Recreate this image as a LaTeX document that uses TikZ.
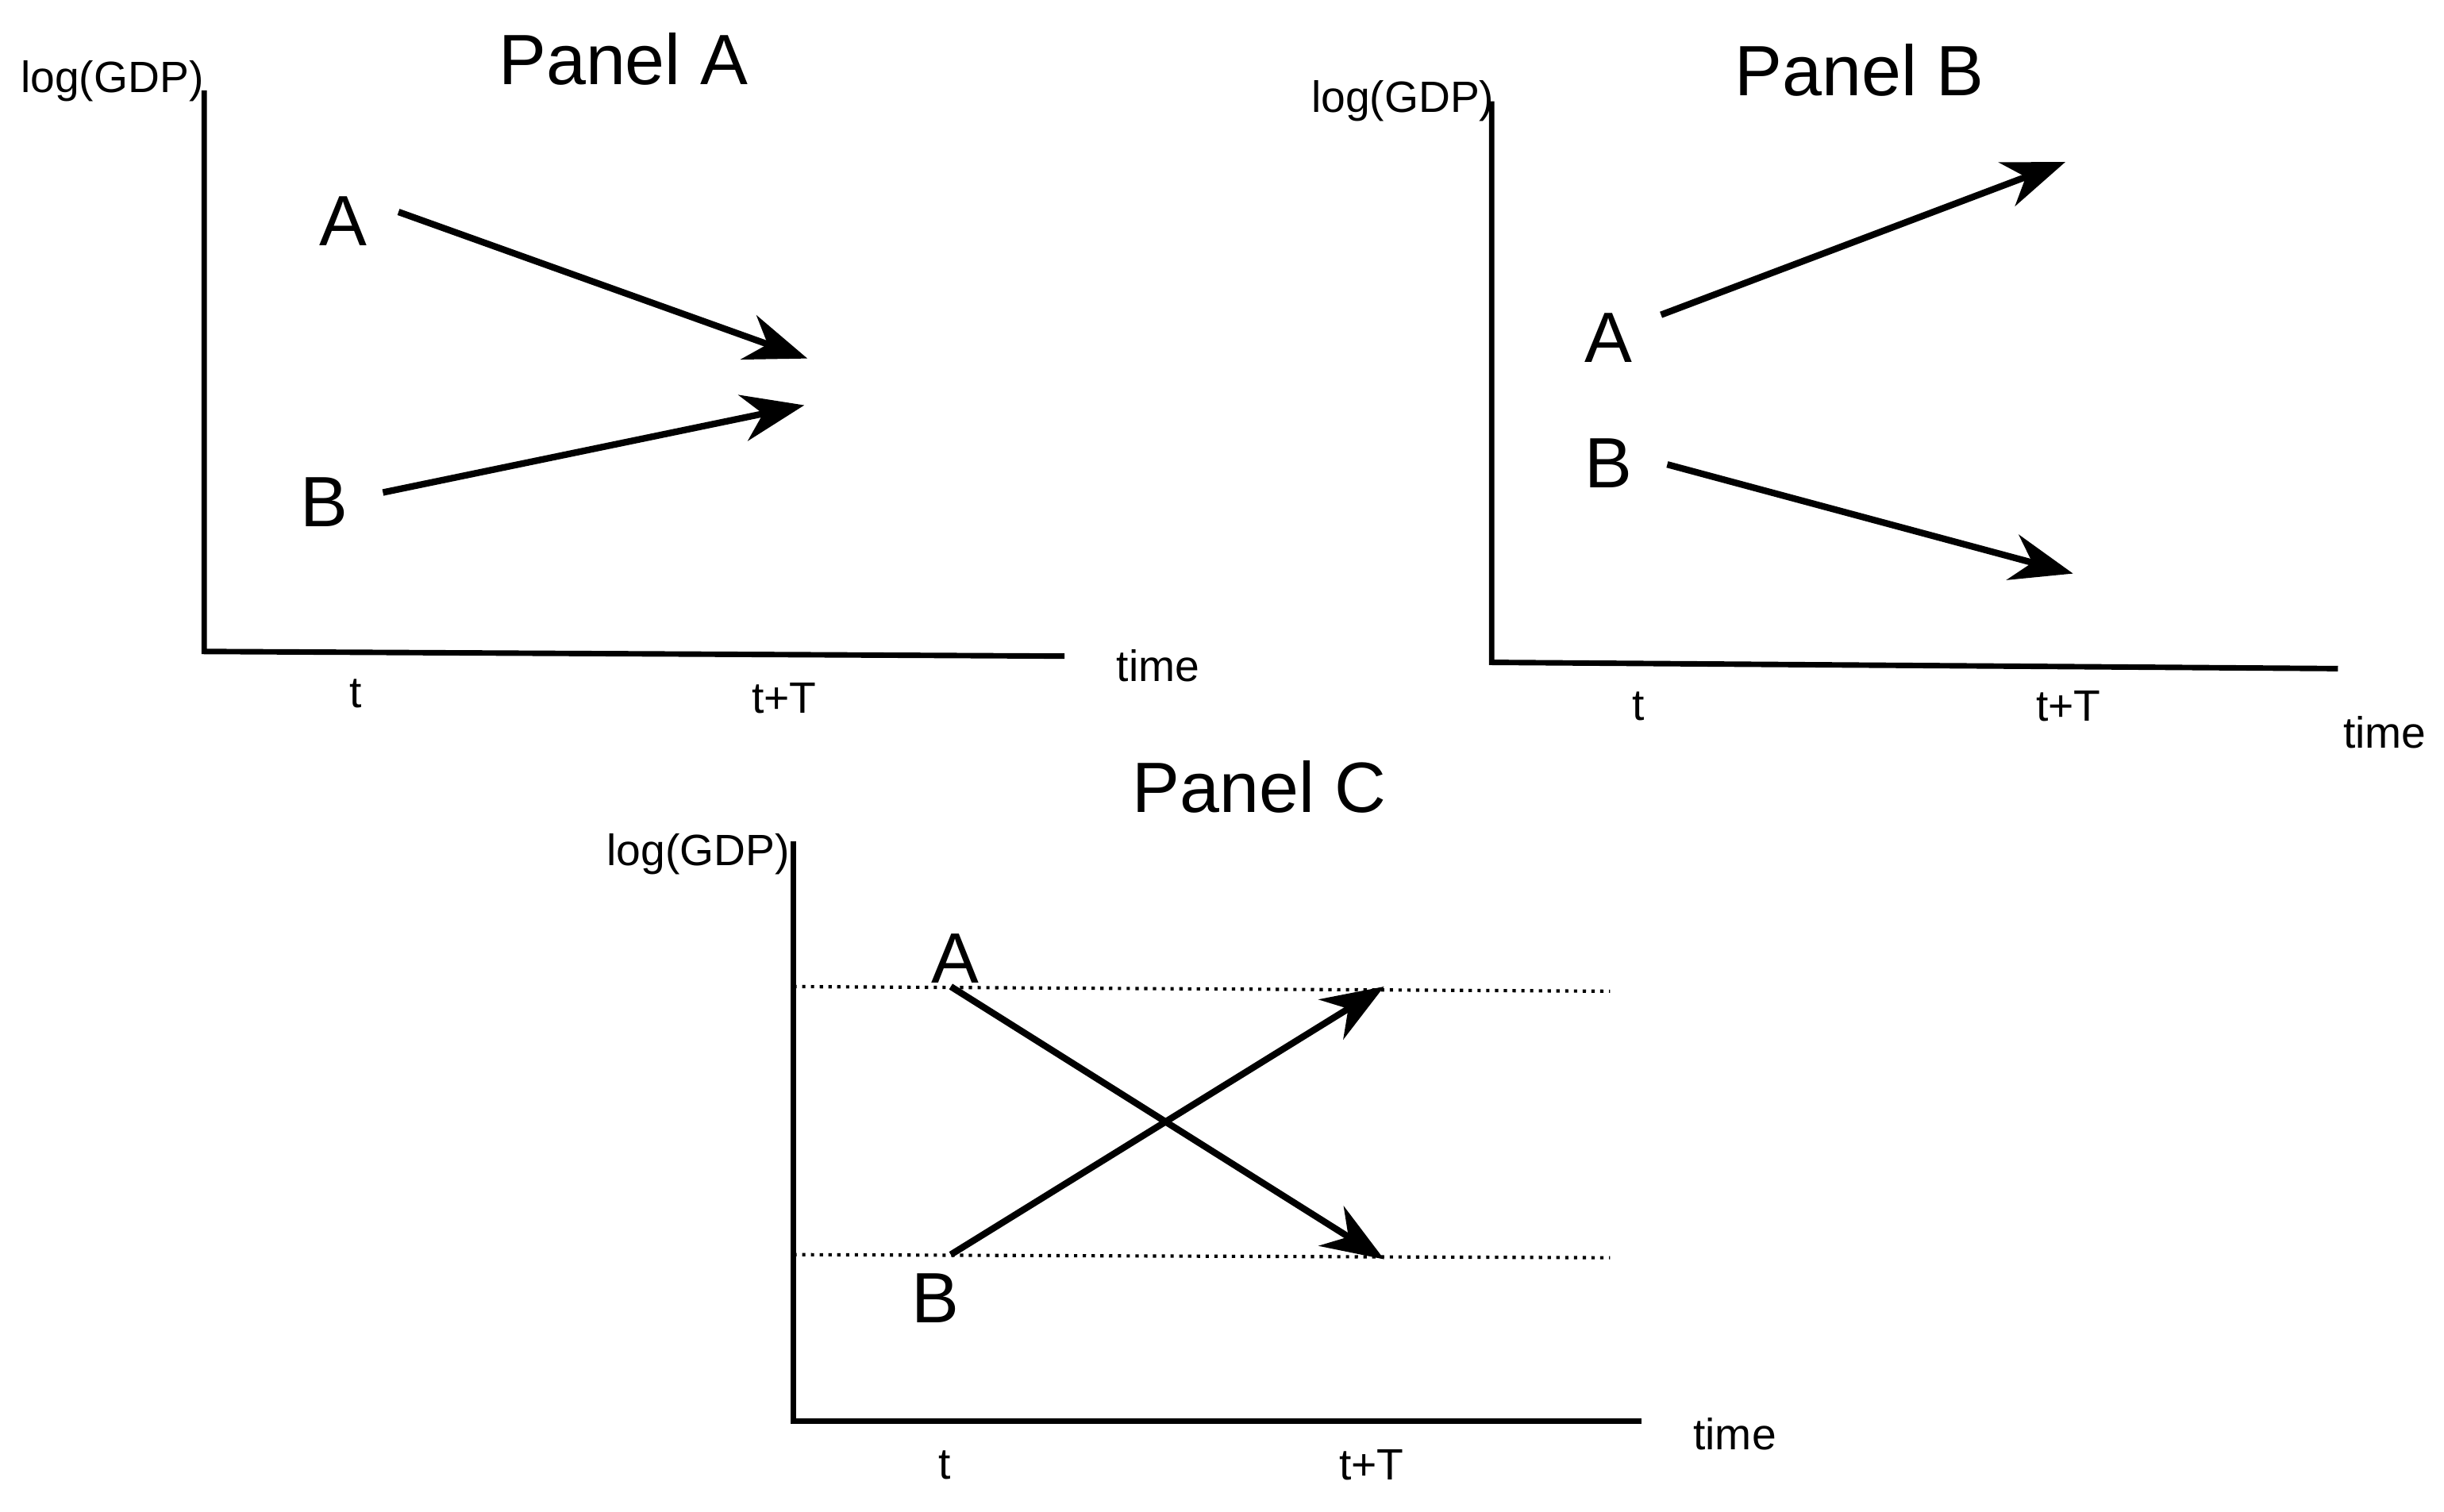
\documentclass[tikz,border=0pt]{standalone}
\usepackage{fontspec}
\setmainfont{Liberation Sans}
\usetikzlibrary{arrows.meta,positioning}

\begin{document}
\begin{tikzpicture}[x=0.01cm, y=-0.01cm,
    axis/.style={line width=1pt},
    move/.style={line width=1.2pt, -{Stealth[length=0.4cm, width=0.3cm]}},
    level/.style={densely dotted, line width=0.6pt},
    lbl/.style={font=\fontsize{8}{9}\selectfont},
    pt/.style={font=\fontsize{13}{15}\selectfont},
    ttl/.style={font=\fontsize{13}{15}\selectfont}]
        \useasboundingbox (0,0) rectangle (1568,970);

        % Panel A
        \node [ttl] (titleA) at (400,38) {Panel A};
        \coordinate (oA) at (131,418);
        \coordinate (yA) at (131,58);
        \coordinate (xA) at (683,421);
        \draw [axis] (yA) -- (oA) -- (xA);
        \node [lbl] (gdpA) at (72,52) {log(GDP)};
        \node [lbl] (timeA) at (743,427) {time};
        \node [lbl] (tA) at (228,445) {t};
        \node [lbl] (tTA) at (503,448) {t+T};
        \node [pt] (aA) at (220,142) {A};
        \node [pt] (bA) at (208,322) {B};
        \coordinate (aAend) at (518,230);
        \coordinate (bAend) at (516,260);
        \draw [move] (aA.east) ++(8,-6) -- (aAend);
        \draw [move] (bA.east) ++(10,-6) -- (bAend);

        % Panel B
        \node [ttl] (titleB) at (1193,45) {Panel B};
        \coordinate (oB) at (957,425);
        \coordinate (yB) at (957,65);
        \coordinate (xB) at (1500,429);
        \draw [axis] (yB) -- (oB) -- (xB);
        \node [lbl] (gdpB) at (900,65) {log(GDP)};
        \node [lbl] (timeB) at (1530,470) {time};
        \node [lbl] (tB) at (1051,453) {t};
        \node [lbl] (tTB) at (1327,453) {t+T};
        \node [pt] (aB) at (1032,217) {A};
        \node [pt] (bB) at (1032,297) {B};
        \coordinate (aBend) at (1325,104);
        \coordinate (bBend) at (1330,368);
        \draw [move] (aB.east) ++(6,-15) -- (aBend);
        \draw [move] (bB.east) ++(10,1) -- (bBend);

        % Panel C
        \node [ttl] (titleC) at (808,505) {Panel C};
        \coordinate (oC) at (509,912);
        \coordinate (yC) at (509,540);
        \coordinate (xC) at (1053,912);
        \draw [axis] (yC) -- (oC) -- (xC);
        \node [lbl] (gdpC) at (448,548) {log(GDP)};
        \node [lbl] (timeC) at (1113,920) {time};
        \node [lbl] (tC) at (606,940) {t};
        \node [lbl] (tTC) at (880,940) {t+T};
        \coordinate (hiL) at (509,633);
        \coordinate (hiR) at (1033,636);
        \coordinate (loL) at (509,805);
        \coordinate (loR) at (1033,807);
        \draw [level] (hiL) -- (hiR);
        \draw [level] (loL) -- (loR);
        \node [pt] (aC) at (613,615) {A};
        \node [pt] (bC) at (600,833) {B};
        \coordinate (aCstart) at (610,633);
        \coordinate (bCstart) at (610,805);
        \coordinate (aCend) at (888,808);
        \coordinate (bCend) at (888,633);
        \draw [move] (aCstart) -- (aCend);
        \draw [move] (bCstart) -- (bCend);
    \end{tikzpicture}
\end{document}
